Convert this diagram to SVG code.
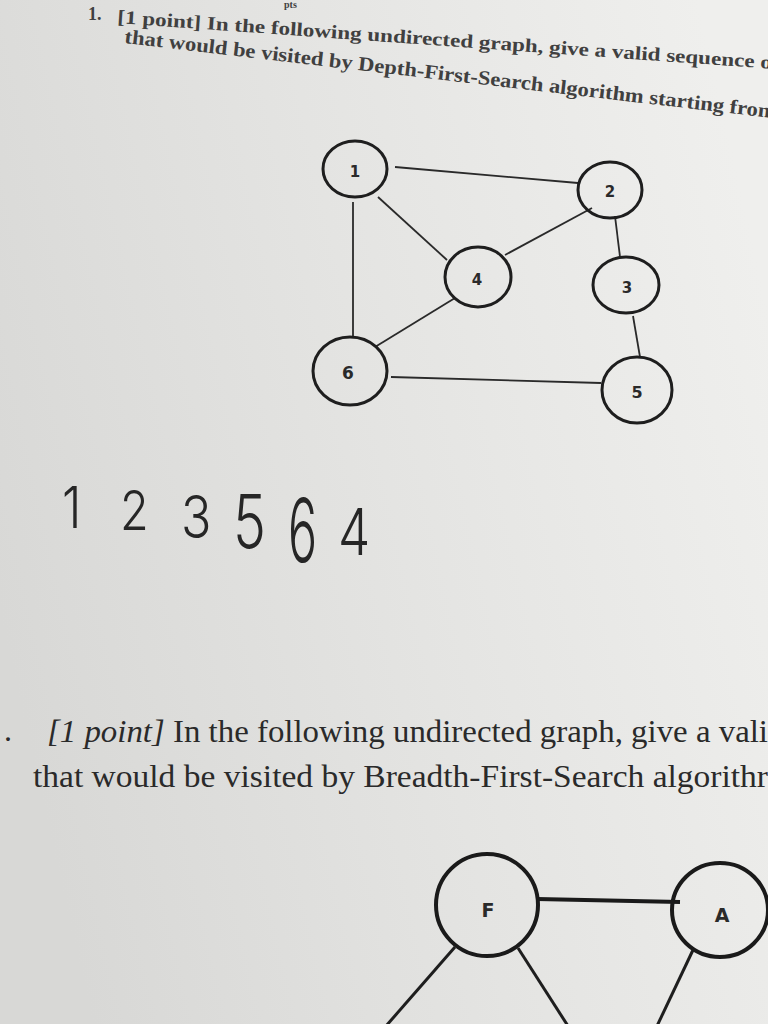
<svg xmlns="http://www.w3.org/2000/svg" width="768" height="1024" viewBox="0 0 768 1024">
<defs>
<linearGradient id="paper" x1="0" y1="0.6" x2="1" y2="0.3">
<stop offset="0" stop-color="#d8d8d6"/>
<stop offset="0.5" stop-color="#e4e4e2"/>
<stop offset="1" stop-color="#efefed"/>
</linearGradient>
<style>
.top{font-family:"Liberation Serif","Times New Roman",serif;font-weight:bold;fill:#404040}
.bot{font-family:"Liberation Serif","Times New Roman",serif;fill:#2a2a2a;font-size:32px}
.node{fill:none;stroke:#1e1e1e;stroke-width:3}
.lbl{font-family:"DejaVu Sans","Liberation Sans",sans-serif;font-weight:bold;fill:#2a2a2a;text-anchor:middle}
.edge{stroke:#2a2a2a;stroke-width:1.8;fill:none}
.hand{font-family:Inter,Roboto,Lato,"DejaVu Sans",sans-serif;font-weight:300;fill:#262626}
</style>
</defs>
<rect width="768" height="1024" fill="url(#paper)"/>

<g id="question1">
<text class="top" x="284" y="8" font-size="10">pts</text>
<text class="top" x="88" y="20" font-size="18">1.</text>
<text class="top" font-size="19" transform="translate(117,23) rotate(4)" textLength="656" lengthAdjust="spacingAndGlyphs">[1 point] In the following undirected graph, give a valid sequence o</text>
<text class="top" font-size="20" transform="translate(124,43) rotate(6.6)" textLength="650" lengthAdjust="spacingAndGlyphs">that would be visited by Depth-First-Search algorithm starting fron</text>
</g>

<g id="connectors1">
<line class="edge" x1="395" y1="167" x2="578" y2="183"/>
<line class="edge" x1="378" y1="197" x2="447" y2="260"/>
<line class="edge" x1="592" y1="208" x2="505" y2="255"/>
<line class="edge" x1="353" y1="202" x2="353" y2="336"/>
<line class="edge" x1="455" y1="298" x2="375" y2="347"/>
<line class="edge" x1="615" y1="216" x2="620" y2="257"/>
<line class="edge" x1="633" y1="316" x2="640" y2="357"/>
<line class="edge" x1="391" y1="377" x2="601" y2="383"/>
</g>

<g id="n1"><ellipse class="node" cx="355" cy="169" rx="32" ry="28"/><text class="lbl" x="355" y="177" font-size="15">1</text></g>
<g id="n2"><ellipse class="node" cx="610" cy="190" rx="32" ry="28"/><text class="lbl" x="610" y="197" font-size="15">2</text></g>
<g id="n4"><ellipse class="node" cx="478" cy="277" rx="33" ry="30"/><text class="lbl" x="477" y="285" font-size="15">4</text></g>
<g id="n3"><ellipse class="node" cx="626" cy="285" rx="33" ry="28"/><text class="lbl" x="627" y="293" font-size="15">3</text></g>
<g id="n6"><ellipse class="node" cx="350" cy="371" rx="37" ry="34"/><text class="lbl" x="348" y="379" font-size="17">6</text></g>
<g id="n5"><ellipse class="node" cx="637" cy="390" rx="35" ry="33"/><text class="lbl" x="637" y="398" font-size="16">5</text></g>

<g id="answer">
<text class="hand" transform="translate(62,528) scale(0.85,1)" font-size="58">1</text>
<text class="hand" transform="translate(120,530) scale(0.85,1)" font-size="55">2</text>
<text class="hand" transform="translate(181,538) scale(0.85,1)" font-size="59">3</text>
<text class="hand" transform="translate(233,548) scale(0.75,1)" font-size="74">5</text>
<text class="hand" transform="translate(288,562) scale(0.55,1)" font-size="88">6</text>
<text class="hand" transform="translate(338,555) scale(0.8,1)" font-size="64">4</text>
</g>

<g id="question2">
<text class="bot" x="4" y="741">.</text>
<text class="bot" x="47" y="742" textLength="721" lengthAdjust="spacingAndGlyphs"><tspan font-style="italic">[1 point]</tspan> In the following undirected graph, give a vali</text>
<text class="bot" x="33" y="787" textLength="735" lengthAdjust="spacingAndGlyphs">that would be visited by Breadth-First-Search algorithr</text>
</g>

<g id="connectors2">
<line x1="537" y1="899" x2="680" y2="902" stroke="#1a1a1a" stroke-width="4"/>
<line x1="455" y1="947" x2="386" y2="1026" stroke="#1e1e1e" stroke-width="3"/>
<line x1="518" y1="948" x2="568" y2="1026" stroke="#1e1e1e" stroke-width="3"/>
<line x1="693" y1="950" x2="657" y2="1026" stroke="#1e1e1e" stroke-width="3"/>
</g>

<g id="nF"><circle cx="487" cy="905" r="51" fill="none" stroke="#1a1a1a" stroke-width="4"/><text class="lbl" x="488" y="917" font-size="19">F</text></g>
<g id="nA"><ellipse cx="720" cy="910" rx="48" ry="47" fill="none" stroke="#1a1a1a" stroke-width="4"/><text class="lbl" x="722" y="922" font-size="19">A</text></g>
</svg>
